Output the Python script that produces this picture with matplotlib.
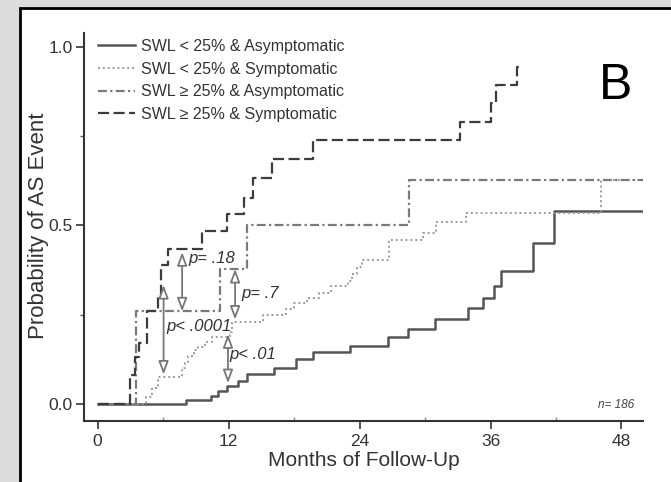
import matplotlib
matplotlib.use("Agg")
import matplotlib.pyplot as plt
from matplotlib.patches import Rectangle

plt.rcParams['font.family'] = ['Liberation Sans Narrow', 'Liberation Sans', 'DejaVu Sans']

# Kaplan-Meier step data (months, cumulative probability after each step)
t_low_asym = [0, 8.1, 10.4, 11.0, 11.9, 12.9, 13.7, 16.2, 18.2, 19.7, 23.1, 26.6,
              28.4, 30.9, 33.9, 35.3, 36.3, 37.0, 39.9, 41.8, 50.0]
p_low_asym = [0, 0.012, 0.022, 0.036, 0.05, 0.064, 0.085, 0.10, 0.125, 0.144, 0.162,
              0.186, 0.21, 0.237, 0.268, 0.296, 0.329, 0.372, 0.45, 0.541, 0.541]

t_low_sym = [0, 4.4, 5.0, 5.5, 7.7, 8.0, 8.3, 8.8, 9.2, 9.85, 10.5, 12.1, 12.3, 15.2,
             17.3, 18.0, 19.2, 20.3, 21.4, 22.9, 23.3, 23.8, 24.2, 26.7, 29.8, 31.0,
             33.8, 46.1, 50.0]
p_low_sym = [0, 0.02, 0.045, 0.076, 0.10, 0.114, 0.133, 0.151, 0.16, 0.174, 0.186,
             0.20, 0.228, 0.249, 0.265, 0.282, 0.296, 0.31, 0.329, 0.345, 0.365, 0.383,
             0.403, 0.459, 0.48, 0.51, 0.535, 0.627, 0.627]

t_high_asym = [0, 3.5, 11.2, 13.7, 28.5, 50.0]
p_high_asym = [0, 0.259, 0.378, 0.502, 0.627, 0.627]

t_high_sym = [0, 3.0, 3.4, 3.8, 4.5, 5.5, 5.8, 6.5, 9.6, 11.9, 13.4, 14.2, 16.0, 19.7,
              33.2, 36.0, 36.5, 38.4, 39.0]
p_high_sym = [0, 0.08, 0.13, 0.17, 0.259, 0.30, 0.39, 0.435, 0.484, 0.532, 0.577,
              0.633, 0.686, 0.738, 0.79, 0.842, 0.894, 0.945, 0.945]

labels = ['SWL < 25% & Asymptomatic', 'SWL < 25% & Symptomatic',
          'SWL \u2265 25% & Asymptomatic', 'SWL \u2265 25% & Symptomatic']

# comparisons: x position, upper and lower value, text, text position
cmp_x = [7.75, 6.05, 12.6, 11.95]
cmp_top = [0.425, 0.333, 0.378, 0.195]
cmp_bot = [0.259, 0.082, 0.236, 0.058]
cmp_text = ['p= .18', 'p< .0001', 'p= .7', 'p< .01']
cmp_tx = [8.3, 6.3, 13.2, 12.1]
cmp_ty = [0.406, 0.218, 0.308, 0.137]

fig = plt.figure(figsize=(6.71, 4.82), dpi=100)
fig.patch.set_facecolor('#dcdcdc')
panel = Rectangle((20 / 671, -0.1), 1.0, 0.1 + (482 - 8) / 482,
                  transform=fig.transFigure, facecolor='white',
                  edgecolor='black', linewidth=2.0, zorder=-10)
fig.add_artist(panel)

ax = fig.add_axes([84 / 671, 61 / 482, 559 / 671, 388 / 482])
ax.set_zorder(5)
ax.set_facecolor('none')

ax.step(t_low_asym, p_low_asym, where='post', color='#555555', lw=1.8,
        linestyle='-', label=labels[0])
ax.step(t_low_sym, p_low_sym, where='post', color='#9a9a9a', lw=1.4,
        linestyle=(0, (1, 1.5)), label=labels[1])
ax.step(t_high_asym, p_high_asym, where='post', color='#7a7a7a', lw=1.6,
        linestyle=(0, (4, 1.5, 1, 1.5)), label=labels[2])
ax.step(t_high_sym, p_high_sym, where='post', color='#3c3c3c', lw=1.6,
        linestyle=(0, (5, 2)), label=labels[3])

for x, top, bot, txt, tx, ty in zip(cmp_x, cmp_top, cmp_bot, cmp_text, cmp_tx, cmp_ty):
    ax.annotate('', xy=(x, bot), xytext=(x, top),
                arrowprops=dict(arrowstyle='<|-|>,head_length=0.8,head_width=0.3',
                                facecolor='white', edgecolor='#777777', lw=1.3,
                                shrinkA=0, shrinkB=0))
    ax.text(tx, ty, txt, style='italic', fontsize=12, color='#333333',
            ha='left', va='center')

ax.text(49.2, -0.003, 'n= 186', style='italic', fontsize=8.5, color='#444444',
        ha='right', va='center')
ax.text(47.5, 0.89, 'B', fontsize=36, family=['Liberation Sans', 'DejaVu Sans'],
        color='black', ha='center', va='center')

ax.set_xlim(-1.24, 49.97)
ax.set_ylim(-0.048, 1.039)
ax.spines['top'].set_visible(False)
ax.spines['right'].set_visible(False)
for s in ('left', 'bottom'):
    ax.spines[s].set_linewidth(1.5)
    ax.spines[s].set_color('#333333')

ax.set_xticks([0, 12, 24, 36, 48])
ax.set_xticks([6, 18, 30, 42], minor=True)
ax.set_yticks([0.0, 0.5, 1.0])
ax.set_yticklabels(['0.0', '0.5', '1.0'])
ax.set_yticks([0.25, 0.75], minor=True)
ax.tick_params(axis='both', which='major', length=6, width=1.2, color='#333333',
               labelsize=12.5, labelcolor='#333333')
ax.tick_params(axis='y', which='major', pad=2)
ax.tick_params(axis='x', which='minor', direction='in', length=3, width=1, color='#888888')
ax.tick_params(axis='y', which='minor', length=3, width=1, color='#555555')

ax.set_xlabel('Months of Follow-Up', fontsize=15, color='#333333', labelpad=1)
ax.set_ylabel('Probability of AS Event', fontsize=16, color='#333333')
ax.yaxis.set_label_coords(-0.063, 0.503)

ax.legend(loc='upper left', bbox_to_anchor=(98 / 671, (482 - 39) / 482),
          bbox_transform=fig.transFigure, frameon=False, fontsize=11.5,
          handlelength=2.3, handletextpad=0.4, labelspacing=0.48,
          borderpad=0, borderaxespad=0, labelcolor='#333333')

fig.savefig('out.png', dpi=100, facecolor=fig.get_facecolor())
